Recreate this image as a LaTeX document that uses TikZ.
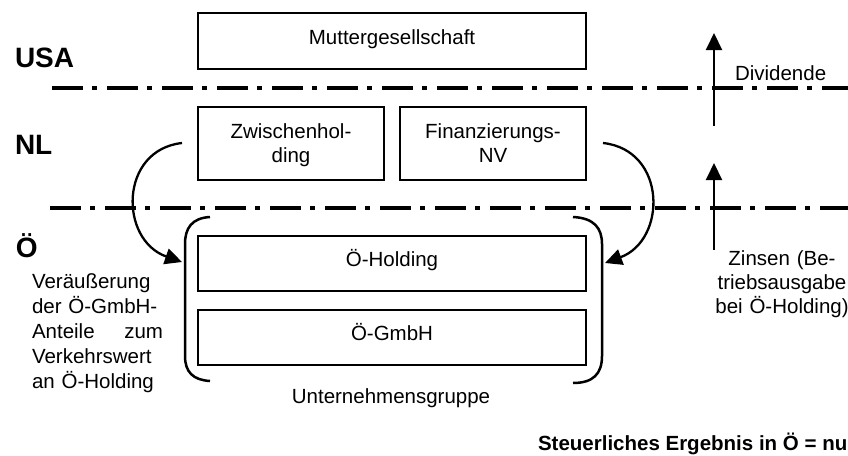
\documentclass[tikz,border=0pt]{standalone}
\usepackage{fontspec}
\setmainfont{Liberation Sans}
\usetikzlibrary{arrows.meta}
\begin{document}
\begin{tikzpicture}[x=1pt,y=-1pt,
  every node/.style={inner sep=0pt, outer sep=0pt},
  txt/.style={font=\fontsize{20.5pt}{24pt}\selectfont},
  boldtxt/.style={font=\fontsize{20.5pt}{24pt}\selectfont\bfseries},
  box/.style={draw, line width=2.8pt, txt, text height=15pt, text depth=9pt},
  box2/.style={draw, line width=2.8pt, txt, align=center, text depth=0pt},
  land/.style={font=\fontsize{28pt}{30pt}\selectfont\bfseries},
  sep/.style={line width=3.5pt, dash pattern=on 31pt off 9pt on 5pt off 10pt},
  flow/.style={line width=2.3pt, -{Triangle[length=17pt,width=16pt]}},
  brace/.style={line width=2.5pt},
]
\path[fill=white, use as bounding box] (0,0) rectangle (848,455);

% country separators
\draw[sep] (52,88) -- (848,88);
\draw[sep] (50,208) -- (848,208);

% country labels
\node[land, anchor=base west] (usa) at (15,67) {USA};
\node[land, anchor=base west] (nl) at (15,154) {NL};
\node[land, anchor=base west] (oe) at (16,257) {Ö};

% companies
\node[box, minimum width=388pt, minimum height=56pt] (mutter) at (392,41) {Muttergesellschaft};
\node[box2, minimum width=186pt, minimum height=73pt] (zw) at (291,143.5) {Zwischenhol-\\ding};
\node[box2, minimum width=186pt, minimum height=73pt] (fin) at (493,143.5) {Finanzierungs-\\NV};
\node[box, minimum width=388pt, minimum height=55pt] (oeh) at (392,263.5) {Ö-Holding};
\node[box, minimum width=388pt, minimum height=55pt] (oeg) at (392,337.5) {Ö-GmbH};

% group bracket
\draw[brace] (210,217) .. controls (192,218) and (185,228) .. (185,244) -- (185,356)
  .. controls (185,372) and (193,380) .. (210,381);
\draw[brace] (573,217) .. controls (594,218) and (602,228) .. (602,244) -- (602,356)
  .. controls (602,374) and (593,383) .. (573,383);
\node[txt, anchor=base] (ug) at (391,403) {Unternehmensgruppe};

% curved arrows
\coordinate (a1s) at (182,143);
\coordinate (a1e) at (182,262);
\coordinate (a2s) at (603,143);
\coordinate (a2e) at (605,263);
\draw[flow] (a1s) .. controls (119,150) and (119,240) .. (a1e);
\draw[flow] (a2s) .. controls (667,150) and (667,240) .. (a2e);

% flows upward
\coordinate (d1) at (714,126);
\coordinate (d2) at (714,33);
\coordinate (z1) at (714,250);
\coordinate (z2) at (714,163);
\draw[flow, line width=2pt] (d1) -- (d2);
\draw[flow, line width=2pt] (z1) -- (z2);

% texts
\node[txt, anchor=base west] (div) at (735,80) {Dividende};
\node[txt, anchor=base, text width=140pt, align=center] (zins) at (782,265)
  {Zinsen (Be-\\triebsausgabe\\bei Ö-Holding)};
\node[font=\fontsize{20.5pt}{25pt}\selectfont, anchor=base west, text width=131pt, align=left] (ver) at (32,288)
  {Veräußerung\\der Ö-GmbH-\\Anteile\hfill zum\\Verkehrswert\\an Ö-Holding};
\node[boldtxt, anchor=base west] (erg) at (538,450) {Steuerliches Ergebnis in Ö = nu};
\end{tikzpicture}
\end{document}
